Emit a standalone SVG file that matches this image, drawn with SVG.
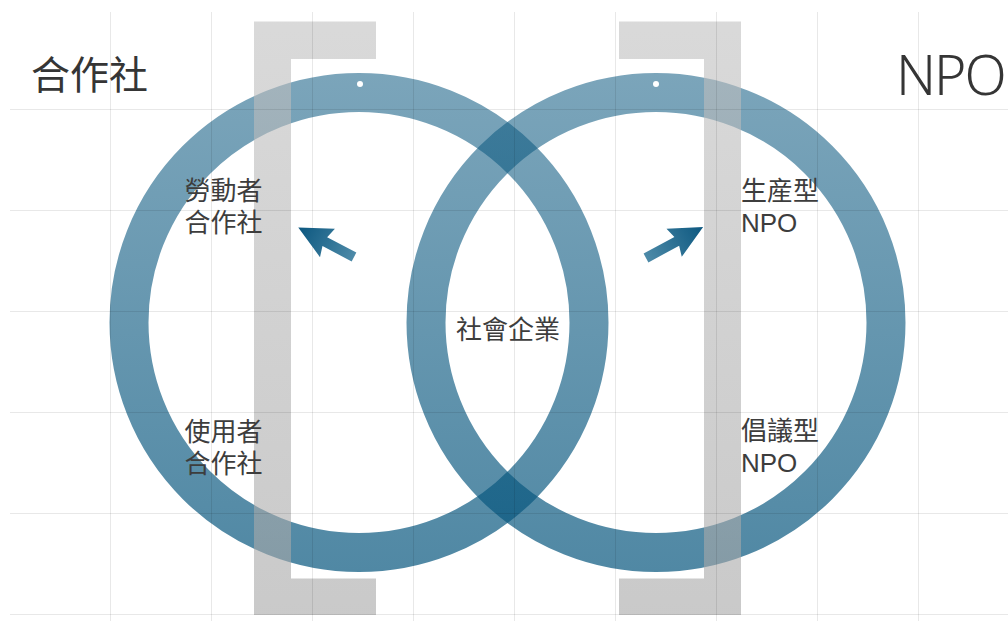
<svg xmlns="http://www.w3.org/2000/svg" width="1008" height="621" viewBox="0 0 1008 621">
  <style>
    .lbl { font-family: "Liberation Sans", "Noto Sans CJK TC", sans-serif; font-size: 26px; fill: #3d3d3d; }
    .ttl { font-family: "Noto Sans", "Noto Sans CJK TC", sans-serif; fill: #353535; }
    .grid line { stroke: #000000; stroke-opacity: 0.09; stroke-width: 1; }
    .ring { fill: none; stroke-width: 39; }
    .brk { fill: url(#gBrk); fill-opacity: 0.6; }
  </style>
  <defs>
    <linearGradient id="gRing" gradientUnits="userSpaceOnUse" x1="0" y1="73" x2="0" y2="572">
      <stop offset="0" stop-color="#0f5b82" stop-opacity="0.55"/>
      <stop offset="1" stop-color="#05557d" stop-opacity="0.7"/>
    </linearGradient>
    <linearGradient id="gBrk" gradientUnits="userSpaceOnUse" x1="0" y1="21" x2="0" y2="615">
      <stop offset="0" stop-color="#c0c0c0"/>
      <stop offset="1" stop-color="#a6a6a6"/>
    </linearGradient>
    <linearGradient id="gArrL" gradientUnits="userSpaceOnUse" x1="0" y1="0" x2="62" y2="0">
      <stop offset="0" stop-color="#4d8aa8"/>
      <stop offset="1" stop-color="#0d5880"/>
    </linearGradient>
    <linearGradient id="gArrR" gradientUnits="userSpaceOnUse" x1="0" y1="0" x2="65" y2="0">
      <stop offset="0" stop-color="#4d8aa8"/>
      <stop offset="1" stop-color="#0d5880"/>
    </linearGradient>
  </defs>

  <rect x="0" y="0" width="1008" height="621" fill="#ffffff"/>

  <g id="ring-cooperative">
    <circle class="ring" cx="359" cy="322.5" r="230" stroke="url(#gRing)"/>
    <circle cx="360" cy="84" r="3" fill="#ffffff"/>
  </g>
  <g id="ring-npo">
    <circle class="ring" cx="656" cy="322.5" r="230" stroke="url(#gRing)"/>
    <circle cx="656" cy="84" r="3" fill="#ffffff"/>
  </g>

  <g id="bracket-left">
    <path class="brk" d="M254,21.5 H376 V59 H291 V578.5 H376 V615 H254 Z"/>
  </g>
  <g id="bracket-right">
    <path class="brk" d="M619,21.5 H741 V615 H619 V578.5 H704 V59 H619 Z"/>
  </g>

  <g class="grid">
    <line x1="110.5" y1="12" x2="110.5" y2="621"/>
    <line x1="211.5" y1="12" x2="211.5" y2="621"/>
    <line x1="312.5" y1="12" x2="312.5" y2="621"/>
    <line x1="413.5" y1="12" x2="413.5" y2="621"/>
    <line x1="514.5" y1="12" x2="514.5" y2="621"/>
    <line x1="615.5" y1="12" x2="615.5" y2="621"/>
    <line x1="716.5" y1="12" x2="716.5" y2="621"/>
    <line x1="817.5" y1="12" x2="817.5" y2="621"/>
    <line x1="918.5" y1="12" x2="918.5" y2="621"/>
    <line x1="10" y1="109.5" x2="1008" y2="109.5"/>
    <line x1="10" y1="210.5" x2="1008" y2="210.5"/>
    <line x1="10" y1="311.5" x2="1008" y2="311.5"/>
    <line x1="10" y1="412.5" x2="1008" y2="412.5"/>
    <line x1="10" y1="513.5" x2="1008" y2="513.5"/>
    <line x1="10" y1="614.5" x2="1008" y2="614.5"/>
  </g>

  <g id="connectors">
    <g transform="translate(354,257) rotate(207.8)">
      <polygon fill="url(#gArrL)" points="0,-5 33,-5 30,-16 63,0 30,16 33,5 0,5"/>
    </g>
    <g transform="translate(646,258) rotate(-28.5)">
      <polygon fill="url(#gArrR)" points="0,-5 35,-5 32,-16 65,0 32,16 35,5 0,5"/>
    </g>
  </g>

  <g id="title-cooperative">
    <text class="ttl" x="31" y="89" font-size="39">合作社</text>
  </g>
  <g id="title-npo">
    <text class="ttl" x="896" y="95" font-size="55" font-weight="300" letter-spacing="-2">NPO</text>
  </g>

  <g id="node-worker-coop">
    <text class="lbl"><tspan x="184.5" y="200">勞動者</tspan><tspan x="184.5" y="231.5">合作社</tspan></text>
  </g>
  <g id="node-user-coop">
    <text class="lbl"><tspan x="184.5" y="441">使用者</tspan><tspan x="184.5" y="472.5">合作社</tspan></text>
  </g>
  <g id="node-productive-npo">
    <text class="lbl"><tspan x="741" y="200">生産型</tspan><tspan x="741" y="231.5">NPO</tspan></text>
  </g>
  <g id="node-advocacy-npo">
    <text class="lbl"><tspan x="741" y="440">倡議型</tspan><tspan x="741" y="472">NPO</tspan></text>
  </g>
  <g id="node-social-enterprise">
    <text class="lbl" x="508" y="339" font-size="30.5" text-anchor="middle">社會企業</text>
  </g>
</svg>
